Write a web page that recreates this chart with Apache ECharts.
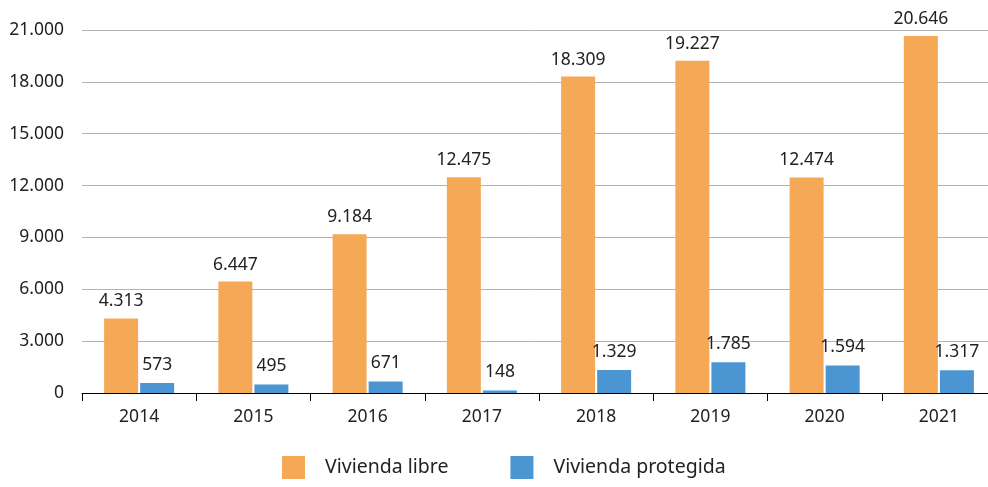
<!DOCTYPE html>
<html>
<head>
<meta charset="utf-8">
<script src="https://cdn.jsdelivr.net/npm/echarts@6/dist/echarts.min.js"></script>
<style>
  html, body { margin: 0; padding: 0; background: #fff; }
  #chart { width: 988px; height: 487px; }
</style>
</head>
<body>
<div id="chart"></div>
<script>
const years = ['2014', '2015', '2016', '2017', '2018', '2019', '2020', '2021'];
const viviendaLibre = [4313, 6447, 9184, 12475, 18309, 19227, 12474, 20646];
const viviendaProtegida = [573, 495, 671, 148, 1329, 1785, 1594, 1317];
const seriesNames = ['Vivienda libre', 'Vivienda protegida'];

const FONT = '"Noto Sans", "Open Sans", sans-serif';
const TEXT = '#222';

// Spanish thousands separator
function fmt(v) {
  return String(Math.round(v)).replace(/\B(?=(\d{3})+(?!\d))/g, '.');
}

const chart = echarts.init(document.getElementById('chart'), null, { renderer: 'canvas' });

chart.setOption({
  animation: false,
  grid: {
    left: 82, top: 30, width: 914, height: 363,
    containLabel: false,
    outerBoundsMode: 'none'
  },
  legend: {
    top: 456,
    left: 282,
    padding: 0,
    itemWidth: 23,
    itemHeight: 23,
    itemGap: 62,
    icon: 'rect',
    textStyle: { fontFamily: FONT, fontSize: 19.5, color: TEXT, padding: [0, 0, 0, 15] },
    data: seriesNames
  },
  xAxis: {
    type: 'category',
    data: years,
    axisLine: { lineStyle: { color: '#000', width: 1 } },
    axisTick: { show: true, length: 8, lineStyle: { color: '#000' } },
    axisLabel: { fontFamily: FONT, fontSize: 17.5, color: TEXT, margin: 15 }
  },
  yAxis: {
    type: 'value',
    min: 0,
    max: 21000,
    interval: 3000,
    axisLine: { show: false },
    axisTick: { show: false },
    splitLine: { lineStyle: { color: '#b3b3b3', width: 1 } },
    axisLabel: { fontFamily: FONT, fontSize: 17.5, color: TEXT, margin: 18, formatter: fmt }
  },
  series: [
    {
      name: seriesNames[0],
      type: 'bar',
      data: viviendaLibre,
      barWidth: 34,
      barGap: '6%',
      itemStyle: { color: '#F5A957' },
      label: {
        show: true, position: 'top', distance: 8,
        fontFamily: FONT, fontSize: 17.5, color: TEXT,
        formatter: p => fmt(p.value)
      }
    },
    {
      name: seriesNames[1],
      type: 'bar',
      data: viviendaProtegida,
      barWidth: 34,
      itemStyle: { color: '#4A95D2' },
      label: {
        show: true, position: 'top', distance: 9,
        fontFamily: FONT, fontSize: 17.5, color: TEXT,
        formatter: p => fmt(p.value)
      }
    }
  ]
});
</script>
</body>
</html>
